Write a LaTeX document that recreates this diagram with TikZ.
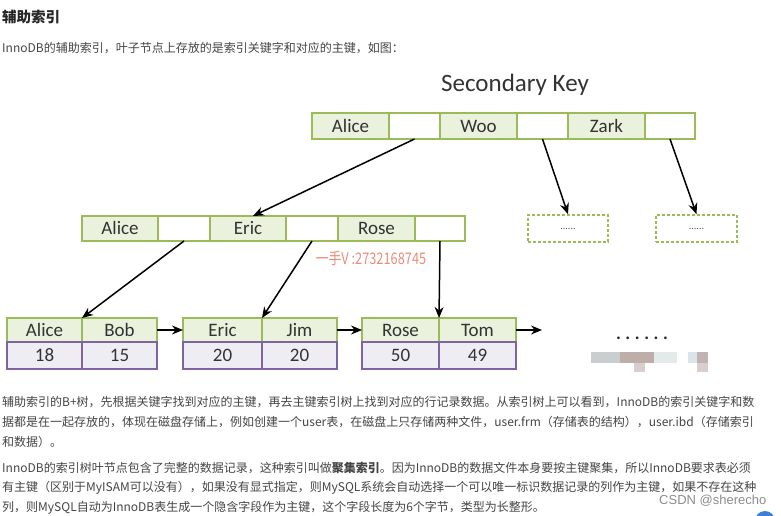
\documentclass[tikz,border=0pt]{standalone}
\usepackage{fontspec}
\setmainfont{Carlito}
\newfontfamily\cjk{Noto Sans CJK SC}
\newfontfamily\arialf{Liberation Sans}
\usetikzlibrary{arrows.meta}
\definecolor{gborder}{HTML}{9BBB59}
\definecolor{gfill}{HTML}{EAF1DD}
\definecolor{pborder}{HTML}{8064A2}
\definecolor{pfill}{HTML}{EFEDF4}
\definecolor{txt}{HTML}{444444}
\definecolor{wmark}{HTML}{E98B7B}
\definecolor{mzA}{HTML}{C9CFCF}
\definecolor{mzB}{HTML}{BDAEAA}
\definecolor{mzC}{HTML}{E2EAEA}
\definecolor{mzD}{HTML}{DCE3EA}
\definecolor{mzE}{HTML}{C2B3B3}
\definecolor{mzF}{HTML}{D8CFCC}
\definecolor{badge}{HTML}{3A80D6}
\tikzset{
  cellbase/.style={rectangle, inner sep=0pt, outer sep=0pt, line width=1.4pt, font=\fontsize{19}{19}\selectfont, text=black!80, text height=12.2pt, text depth=0pt},
  keycell/.style={cellbase, draw=gborder, fill=gfill},
  ptrcell/.style={cellbase, draw=gborder, fill=white},
  valcell/.style={cellbase, draw=pborder, fill=pfill},
  dashbox/.style={rectangle, draw=gborder, line width=1.5pt, dash pattern=on 3pt off 2pt, fill=white, inner sep=0pt, font=\fontsize{10}{10}\selectfont, text=black!70},
  link/.style={line width=1.5pt, -{Stealth[length=11pt,width=9pt]}},
  para/.style={anchor=west, inner sep=0pt, text=txt, font=\cjk\fontsize{12}{12}\selectfont}
}
\begin{document}
\begin{tikzpicture}[x=1pt,y=-1pt]
\useasboundingbox (0,0) rectangle (781,516);
% heading texts
\node[anchor=west, inner sep=0pt, text=black!85, font=\cjk\bfseries\fontsize{14.5}{14.5}\selectfont] (title) at (2,17) {辅助索引};
\node[para] (intro) at (2,48) {InnoDB的辅助索引，叶子节点上存放的是索引关键字和对应的主键，如图：};
\node[font=\fontsize{25}{25}\selectfont, text=black!80, inner sep=0pt] (sk) at (515,85) {Secondary Key};

% top row
\node[keycell, minimum width=77pt, minimum height=26pt] (tA) at (350.5,126) {Alice};
\node[ptrcell, minimum width=51pt, minimum height=26pt] (tp1) at (414.5,126) {};
\node[keycell, minimum width=77pt, minimum height=26pt] (tW) at (478.5,126) {Woo};
\node[ptrcell, minimum width=51pt, minimum height=26pt] (tp2) at (542.5,126) {};
\node[keycell, minimum width=77pt, minimum height=26pt] (tZ) at (606.5,126) {Zark};
\node[ptrcell, minimum width=50pt, minimum height=26pt] (tp3) at (670,126) {};

% middle row
\node[keycell, minimum width=76pt, minimum height=25pt] (mA) at (120,228.5) {Alice};
\node[ptrcell, minimum width=52pt, minimum height=25pt] (mp1) at (184,228.5) {};
\node[keycell, minimum width=76pt, minimum height=25pt] (mE) at (248,228.5) {Eric};
\node[ptrcell, minimum width=52pt, minimum height=25pt] (mp2) at (312,228.5) {};
\node[keycell, minimum width=77pt, minimum height=25pt] (mR) at (376.5,228.5) {Rose};
\node[ptrcell, minimum width=50pt, minimum height=25pt] (mp3) at (440,228.5) {};

% dashed boxes
\node[dashbox, minimum width=80pt, minimum height=27pt] (d1) at (568,228.5) {......};
\node[dashbox, minimum width=81pt, minimum height=27pt] (d2) at (696.5,228.5) {......};

% leaves
\node[keycell, minimum width=75pt, minimum height=24pt] (lA) at (44.5,330) {Alice};
\node[keycell, minimum width=75pt, minimum height=24pt] (lB) at (119.5,330) {Bob};
\node[valcell, minimum width=75pt, minimum height=27pt] (vA) at (44.5,355.5) {18};
\node[valcell, minimum width=75pt, minimum height=27pt] (vB) at (119.5,355.5) {15};

\node[keycell, minimum width=79pt, minimum height=24pt] (lE) at (222.5,330) {Eric};
\node[keycell, minimum width=75pt, minimum height=24pt] (lJ) at (299.5,330) {Jim};
\node[valcell, minimum width=79pt, minimum height=27pt] (vE) at (222.5,355.5) {20};
\node[valcell, minimum width=75pt, minimum height=27pt] (vJ) at (299.5,355.5) {20};

\node[keycell, minimum width=77pt, minimum height=24pt] (lR) at (400.5,330) {Rose};
\node[keycell, minimum width=77pt, minimum height=24pt] (lT) at (477.5,330) {Tom};
\node[valcell, minimum width=77pt, minimum height=27pt] (vR) at (400.5,355.5) {50};
\node[valcell, minimum width=77pt, minimum height=27pt] (vT) at (477.5,355.5) {49};

\coordinate (tail) at (542,330);
\node[inner sep=0pt, font=\bfseries\fontsize{18}{18}\selectfont, text=black!85] (more) at (642,338) {.\hspace{4.6pt}.\hspace{4.6pt}.\hspace{4.6pt}.\hspace{4.6pt}.\hspace{4.6pt}.};

% mosaic blur
\fill[mzA] (591,352) rectangle (620,363);
\fill[mzB] (620,352) rectangle (654,363);
\fill[mzC] (654,352) rectangle (677,363);
\fill[mzD] (688,352) rectangle (697,363);
\fill[mzE] (697,352) rectangle (708,363);
\fill[mzF] (634,363) rectangle (645,372);
\fill[mzF] (697,363) rectangle (708,372);

% watermark
\node[inner sep=0pt, text=wmark, font=\cjk\fontsize{16}{16}\selectfont] (wm) at (371,258) {\scalebox{0.8}[1]{一手V :2732168745}};

% connectors
\draw[link] (tp1.south) -- ([xshift=5pt]mE.north);
\draw[link] (tp2.south) -- (d1.north);
\draw[link] (tp3.south) -- (d2.north);
\draw[link] (mp1.south) -- (lB.north west);
\draw[link] (mp2.south) -- (lJ.north west);
\draw[link] (mp3.south) -- (lT.north west);
\draw[link] (lB.east) -- (lE.west);
\draw[link] (lJ.east) -- (lR.west);
\draw[link] (lT.east) -- (tail);

% paragraphs
\node[para] (p1) at (2,402) {辅助索引的B+树，先根据关键字找到对应的主键，再去主键索引树上找到对应的行记录数据。从索引树上可以看到，InnoDB的索引关键字和数};
\node[para] (p2) at (2,422) {据都是在一起存放的，体现在磁盘存储上，例如创建一个user表，在磁盘上只存储两种文件，user.frm（存储表的结构），user.ibd（存储索引};
\node[para] (p3) at (2,442) {和数据）。};
\node[para] (q1) at (2,468) {InnoDB的索引树叶节点包含了完整的数据记录，这种索引叫做{\bfseries 聚集索引}。因为InnoDB的数据文件本身要按主键聚集，所以InnoDB要求表必须};
\node[para] (q2) at (2,488) {有主键（区别于MyISAM可以没有），如果没有显式指定，则MySQL系统会自动选择一个可以唯一标识数据记录的列作为主键，如果不存在这种};
\node[para] (q3) at (2,508) {列，则MySQL自动为InnoDB表生成一个隐含字段作为主键，这个字段长度为6个字节，类型为长整形。};
\node[anchor=west, inner sep=0pt, text=black!45, font=\arialf\fontsize{13}{13}\selectfont] (csdn) at (659,501) {CSDN @sherecho};
\fill[badge] (765,521) circle (10pt);
\end{tikzpicture}
\end{document}
